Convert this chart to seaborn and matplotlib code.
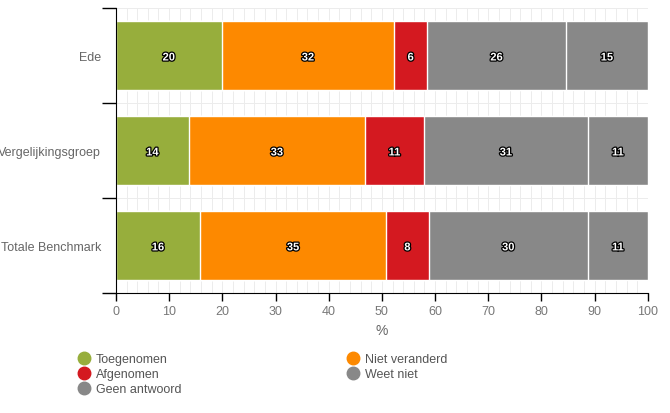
import numpy as np
import pandas as pd
import seaborn as sns
import matplotlib.pyplot as plt
import matplotlib.patheffects as pe
from matplotlib.lines import Line2D

# data (percentages)
groups = ['Ede', 'Vergelijkingsgroep', 'Totale Benchmark']
answers = ['Toegenomen', 'Niet veranderd', 'Afgenomen', 'Weet niet', 'Geen antwoord']
toegenomen = [19.9, 13.7, 15.8]
niet_veranderd = [32.4, 33.1, 35.0]
afgenomen = [6.2, 11.1, 8.0]
weet_niet = [26.1, 30.8, 29.9]
geen_antwoord = [15.4, 11.3, 11.3]
colors = ['#97ae3c', '#fd8900', '#d41920', '#888888', '#888888']

sns.set_style('white')
plt.rcParams['font.family'] = ['Liberation Sans', 'DejaVu Sans']

df = pd.DataFrame({'group': groups, 'Toegenomen': toegenomen, 'Niet veranderd': niet_veranderd,
                   'Afgenomen': afgenomen, 'Weet niet': weet_niet, 'Geen antwoord': geen_antwoord})
cum = df[answers].cumsum(axis=1)

fig = plt.figure(figsize=(6.7, 4.14), dpi=100)
ax = fig.add_axes([0.173, 0.29, 0.794, 0.688])

# stacked bars: draw cumulative totals back to front
for ans, col in reversed(list(zip(answers, colors))):
    sns.barplot(x=cum[ans], y=df['group'], color=col, width=0.72, orient='h',
                edgecolor='white', linewidth=1, saturation=1, ax=ax)

# value labels
for i in range(len(groups)):
    for ans in answers:
        v = df.loc[i, ans]
        ax.text(cum.loc[i, ans] - v / 2, i + 0.02, f'{v:.0f}', ha='center', va='center',
                color='white', fontsize=8, fontweight='bold',
                path_effects=[pe.withStroke(linewidth=1.8, foreground='black')])

ax.set_xlim(0, 100)
ax.set_ylim(2.5, -0.5)
ax.set_xticks(range(0, 101, 10))
ax.set_xticks(np.arange(0, 101, 2), minor=True)
ax.set_yticks([-0.5, 0.5, 1.5, 2.5])
ax.set_yticklabels([])
ax.set_yticks(np.arange(-0.5, 2.6, 0.25), minor=True)
ax.grid(which='both', color='#ececec', linewidth=0.7)
ax.set_axisbelow(True)
for i, g in enumerate(groups):
    ax.text(-2.8, i + 0.02, g, ha='right', va='center', fontsize=9, color='#666666')

ax.tick_params(axis='y', which='major', length=10, width=1, color='black', left=True)
ax.tick_params(axis='y', which='minor', length=0)
ax.tick_params(axis='x', which='major', length=6, width=1, color='black', bottom=True,
               labelsize=9, labelcolor='#777777', pad=3)
ax.tick_params(axis='x', which='minor', length=0)
ax.set_xlabel('%', fontsize=10, color='#666666', labelpad=4)
ax.set_ylabel('')
sns.despine(ax=ax, top=True, right=True)
ax.spines['left'].set_color('black')
ax.spines['bottom'].set_color('black')

# legend: two separate columns
def handles(names, cols):
    return [Line2D([], [], marker='o', linestyle='', markersize=9, markerfacecolor=c,
                   markeredgecolor=c, label=n) for n, c in zip(names, cols)]

leg_kw = dict(frameon=False, fontsize=9, handletextpad=0.5, labelspacing=0.25,
              borderaxespad=0, handlelength=1.0, labelcolor='#555555')
l1 = fig.legend(handles=handles([answers[0], answers[2], answers[4]], [colors[0], colors[2], colors[4]]),
                loc='upper left', bbox_to_anchor=(0.108, 0.157), **leg_kw)
l2 = fig.legend(handles=handles([answers[1], answers[3]], [colors[1], colors[3]]),
                loc='upper left', bbox_to_anchor=(0.51, 0.157), **leg_kw)

fig.savefig('out.png', dpi=100)
